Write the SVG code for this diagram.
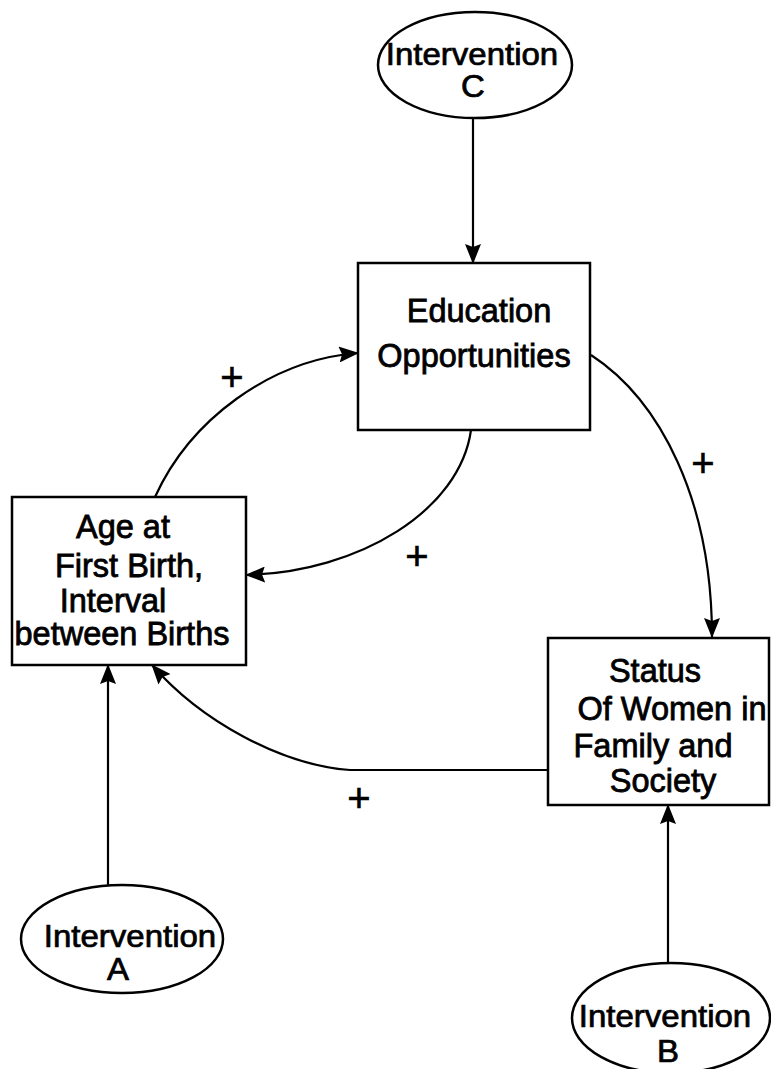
<svg xmlns="http://www.w3.org/2000/svg" width="771" height="1069" viewBox="0 0 771 1069">
<style>
.n{fill:#fff;stroke:#000;stroke-width:2.5}
.t{font-family:"Liberation Sans",Arial,sans-serif;font-size:32.5px;fill:#000;text-anchor:middle;stroke:#000;stroke-width:0.8}
.i{font-size:33px}
.p{font-family:"Liberation Sans",Arial,sans-serif;font-size:40px;fill:#000;text-anchor:middle;stroke:#000;stroke-width:0.6}
.c{fill:none;stroke:#000;stroke-width:2.2}
</style>
<defs>
<marker id="ah" viewBox="0 0 20 16" refX="19" refY="8" markerWidth="20" markerHeight="16" markerUnits="userSpaceOnUse" orient="auto">
<path d="M0,0 L20,8 L0,16 L3,8 Z" fill="#000"/>
</marker>
</defs>
<rect width="771" height="1069" fill="#fff"/>
<g id="connectors">
<path class="c" d="M473,118 V263" marker-end="url(#ah)"/>
<path class="c" d="M108,885 V665" marker-end="url(#ah)"/>
<path class="c" d="M668,963 V805" marker-end="url(#ah)"/>
<path class="c" d="M155,497 C190,420 270,360 358,353" marker-end="url(#ah)"/>
<path class="c" d="M471,430 C460,510 360,572 246,575" marker-end="url(#ah)"/>
<path class="c" d="M591,355 C660,400 712,500 712,637" marker-end="url(#ah)"/>
<path class="c" d="M548,770 H350 C280,765 200,720 152,665" marker-end="url(#ah)"/>
<text class="p" x="232" y="391">+</text>
<text class="p" x="417" y="570">+</text>
<text class="p" x="703" y="477">+</text>
<text class="p" x="359" y="812">+</text>
</g>
<g id="intervention-c">
<ellipse class="n" cx="475" cy="65" rx="97" ry="53"/>
<text class="t i" transform="translate(472,65) scale(1,0.93)">Intervention</text>
<text class="t i" transform="translate(473,97) scale(1,0.93)">C</text>
</g>
<g id="education">
<rect class="n" x="358" y="263" width="232" height="167"/>
<text class="t" x="479" y="322">Education</text>
<text class="t" x="474" y="367">Opportunities</text>
</g>
<g id="age">
<rect class="n" x="12" y="497" width="234" height="168"/>
<text class="t" x="123" y="538">Age at</text>
<text class="t" x="129" y="577">First Birth,</text>
<text class="t" x="113" y="612">Interval</text>
<text class="t" x="122" y="645">between Births</text>
</g>
<g id="status">
<rect class="n" x="548" y="638" width="221" height="167"/>
<text class="t" x="655" y="682">Status</text>
<text class="t" x="672" y="720">Of Women in</text>
<text class="t" x="653" y="757">Family and</text>
<text class="t" x="663" y="792">Society</text>
</g>
<g id="intervention-a">
<ellipse class="n" cx="122" cy="939" rx="101" ry="54"/>
<text class="t i" transform="translate(130,947) scale(1,0.93)">Intervention</text>
<text class="t i" transform="translate(118,980) scale(1,0.93)">A</text>
</g>
<g id="intervention-b">
<ellipse class="n" cx="671" cy="1018" rx="99" ry="55"/>
<text class="t i" transform="translate(665,1027) scale(1,0.93)">Intervention</text>
<text class="t i" transform="translate(668,1062) scale(1,0.93)">B</text>
</g>
</svg>
